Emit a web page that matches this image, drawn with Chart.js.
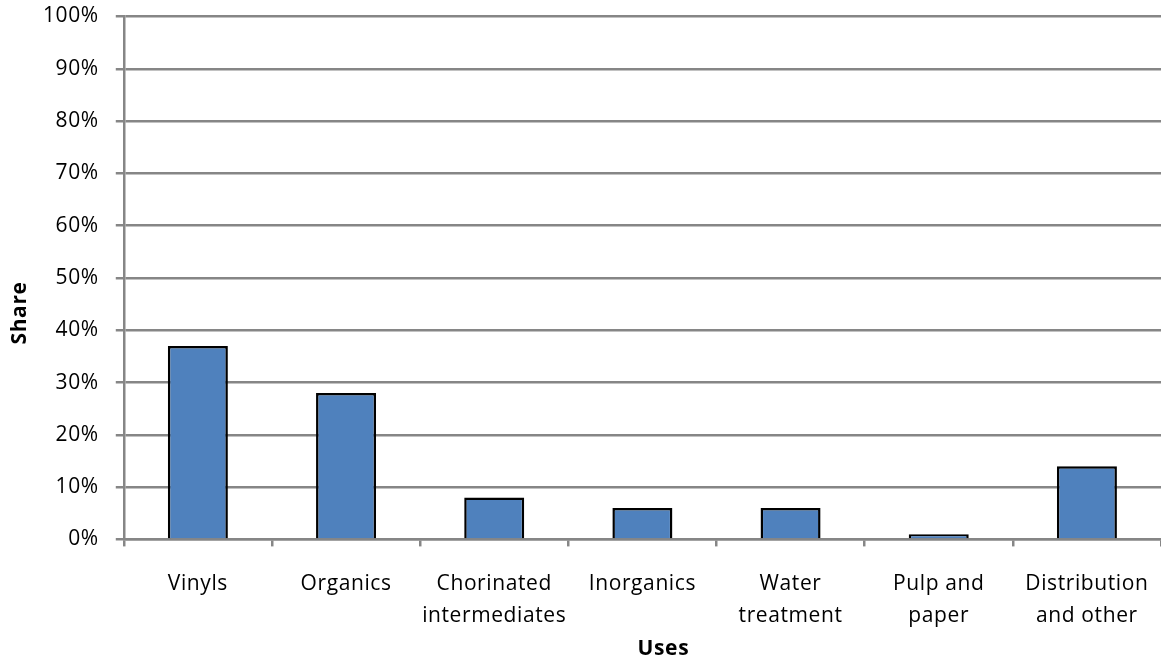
<!DOCTYPE html>
<html>
<head>
<meta charset="utf-8">
<title>Chlorine uses</title>
<script src="https://cdn.jsdelivr.net/npm/chart.js@4/dist/chart.umd.min.js"></script>
<style>
  html, body { margin: 0; padding: 0; background: #ffffff; }
  #wrap { width: 1161px; height: 661px; }
</style>
</head>
<body>
<div id="wrap"><canvas id="chart" width="1161" height="661"></canvas></div>
<script>
// Share of chlorine consumption by end use (percent)
const categories = [
  ['Vinyls'],
  ['Organics'],
  ['Chorinated', 'intermediates'],
  ['Inorganics'],
  ['Water', 'treatment'],
  ['Pulp and', 'paper'],
  ['Distribution', 'and other']
];
const shareValues = [37, 28, 8, 6, 6, 1, 14];
const yTicks = [0, 10, 20, 30, 40, 50, 60, 70, 80, 90, 100];
const xTitle = 'Uses';
const yTitle = 'Share';

const FONT = '"Open Sans", "DejaVu Sans", sans-serif';
const FONT_SIZE = 21;
const GRID = '#868686';
const SPACING = '0.6px';

// Slightly open letter spacing for all canvas text
const spacing = {
  id: 'spacing',
  beforeLayout(chart) { chart.ctx.letterSpacing = SPACING; },
  beforeDraw(chart) { chart.ctx.letterSpacing = SPACING; }
};

// Axis titles, placed in the space reserved by the layout padding
const axisTitles = {
  id: 'axisTitles',
  afterDraw(chart) {
    const ctx = chart.ctx;
    const area = chart.chartArea;
    ctx.save();
    ctx.letterSpacing = SPACING;
    ctx.fillStyle = '#000000';
    ctx.font = 'bold ' + FONT_SIZE + 'px ' + FONT;
    ctx.textAlign = 'center';
    ctx.textBaseline = 'alphabetic';
    // x title under the category labels
    ctx.fillText(xTitle, (area.left + area.right) / 2 + 21, chart.height - 6);
    // y title, rotated, left of the value labels
    ctx.translate(26, (area.top + area.bottom) / 2 + 35);
    ctx.rotate(-Math.PI / 2);
    ctx.fillText(yTitle, 0, 0);
    ctx.restore();
  }
};

new Chart(document.getElementById('chart'), {
  type: 'bar',
  data: {
    labels: categories,
    datasets: [{
      label: yTitle,
      data: shareValues,
      backgroundColor: '#4F81BD',
      borderColor: '#000000',
      borderWidth: 2.5,
      borderSkipped: 'bottom',
      categoryPercentage: 1.0,
      barPercentage: 0.405
    }]
  },
  options: {
    responsive: false,
    animation: false,
    devicePixelRatio: 1,
    layout: { padding: { top: 0, right: 0, left: 26, bottom: 7.5 } },
    plugins: {
      legend: { display: false },
      tooltip: { enabled: false }
    },
    scales: {
      x: {
        offset: true,
        afterFit(scale) { scale.paddingLeft = 0; scale.paddingRight = 0; },
        grid: {
          offset: true,
          drawOnChartArea: false,
          drawTicks: true,
          tickLength: 7,
          color: GRID,
          lineWidth: 2.5
        },
        border: { display: true, color: GRID, width: 2.5 },
        ticks: {
          color: '#000000',
          font: { family: FONT, size: FONT_SIZE, lineHeight: 1.55 },
          padding: 21,
          maxRotation: 0,
          autoSkip: false
        }
      },
      y: {
        min: 0,
        max: 100,
        afterBuildTicks(scale) { scale.ticks = yTicks.map(v => ({ value: v })); },
        afterFit(scale) { scale.paddingTop = 16.5; scale.paddingBottom = 0; },
        grid: {
          color: GRID,
          lineWidth: 2.5,
          tickLength: 8,
          drawTicks: true
        },
        border: { display: true, color: GRID, width: 2.5 },
        ticks: {
          color: '#000000',
          font: { family: FONT, size: FONT_SIZE },
          padding: 17,
          callback: v => v + '%'
        }
      }
    }
  },
  plugins: [spacing, axisTitles]
});
</script>
</body>
</html>
